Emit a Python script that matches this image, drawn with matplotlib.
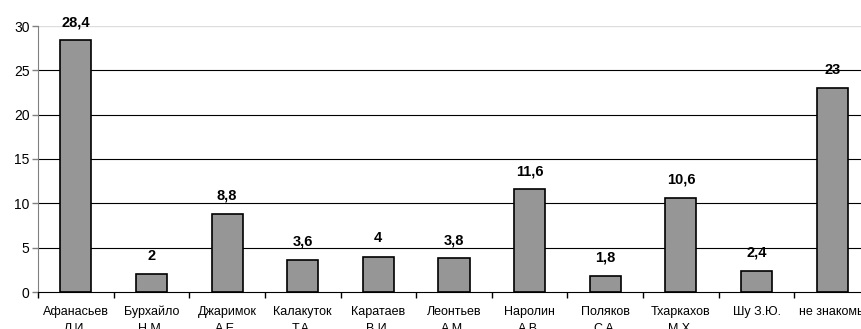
import matplotlib
matplotlib.use("Agg")
import matplotlib.pyplot as plt
import numpy as np

plt.rcParams['font.family'] = ['Liberation Sans', 'DejaVu Sans']

names = ["Афанасьев\nЛ.И.", "Бурхайло\nН.М.", "Джаримок\nА.Е.", "Калакуток\nТ.А.",
         "Каратаев\nВ.И.", "Леонтьев\nА.М.", "Наролин\nА.В.", "Поляков\nС.А.",
         "Тхаркахов\nМ.Х.", "Шу З.Ю.", "не знакомы"]
values = [28.4, 2, 8.8, 3.6, 4, 3.8, 11.6, 1.8, 10.6, 2.4, 23]

fig = plt.figure(figsize=(8.61, 3.29), dpi=100)
ax = fig.add_axes([38 / 861, 37 / 329, 832 / 861, 266 / 329])

x = np.arange(len(values))
ax.bar(x, values, width=0.41, color="#969696", edgecolor="black", linewidth=1.2, zorder=3)

for xi, v in zip(x, values):
    txt = f"{v:g}".replace(".", ",")
    ax.text(xi, v + 1.25, txt, ha="center", va="bottom", fontsize=10.5, fontweight="bold", zorder=4)

ax.set_xlim(-0.5, len(values) - 0.5)
ax.set_ylim(0, 30)
ax.set_yticks(range(0, 31, 5))
ax.tick_params(axis="y", labelsize=10, length=4, color="#808080", width=1, pad=2)

# gridlines
for g in range(5, 30, 5):
    ax.axhline(g, color="black", linewidth=0.8, zorder=1)
ax.axhline(30, color="#dddddd", linewidth=1, zorder=1)

# category boundaries as ticks, names centred between them
ax.set_xticks(np.arange(-0.5, len(values), 1))
ax.set_xticklabels([])
ax.tick_params(axis="x", which="major", length=4, color="black", width=1)
ax.set_xticks(x, minor=True)
ax.set_xticklabels(names, minor=True, fontsize=9, linespacing=1.55)
ax.tick_params(axis="x", which="minor", length=0, pad=10)

for s in ["top", "right"]:
    ax.spines[s].set_visible(False)
ax.spines["left"].set_color("#808080")
ax.spines["bottom"].set_color("black")
ax.spines["bottom"].set_zorder(5)

fig.savefig("out.png", dpi=100)
